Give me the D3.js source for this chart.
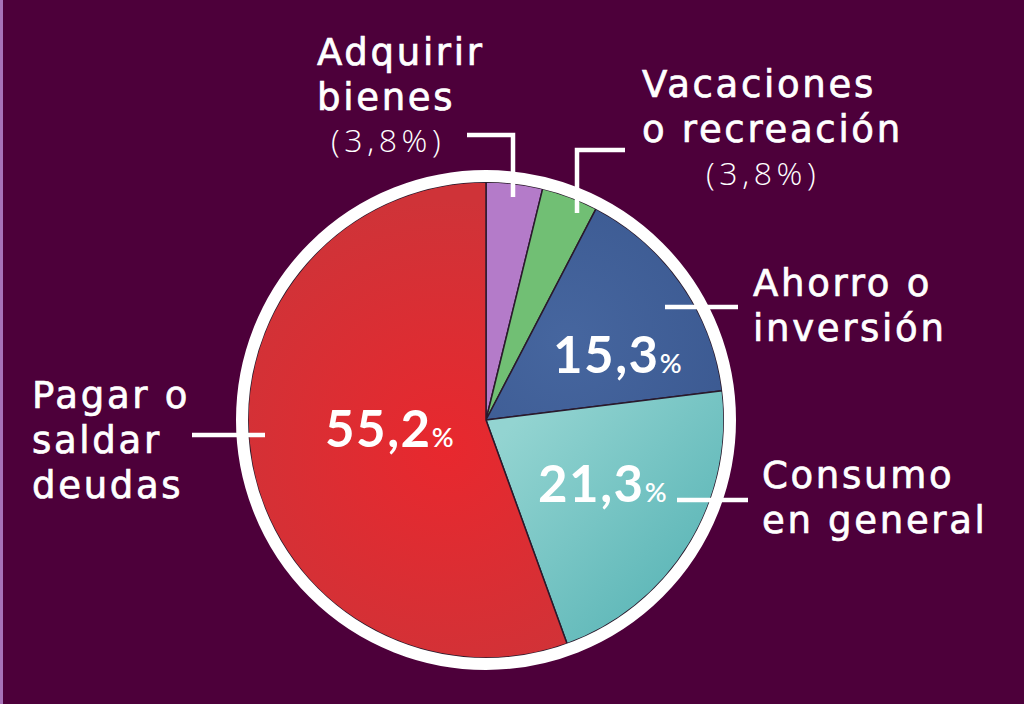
<!DOCTYPE html>
<html>
<head>
<meta charset="utf-8">
<script src="https://cdn.jsdelivr.net/npm/d3@7"></script>
<style>
  html, body { margin: 0; padding: 0; background: #4d003a; }
  svg { display: block; }
</style>
</head>
<body>
<div id="chart"></div>
<script>
// data (clockwise from 12 o'clock)
const categories = ["Adquirir bienes", "Vacaciones o recreación", "Ahorro o inversión", "Consumo en general", "Pagar o saldar deudas"];
const values = [3.8, 3.8, 15.3, 21.3, 55.2];
const labelLines = [["Adquirir", "bienes"], ["Vacaciones", "o recreación"], ["Ahorro o", "inversión"], ["Consumo", "en general"], ["Pagar o", "saldar", "deudas"]];
const colors = ["#b47bc9", "#71bf74", "url(#gBlue)", "url(#gTeal)", "url(#gRed)"];

// where each label sits and how its leader runs
const labelLayout = [
  {x: 317, y: 65, pctX: 331, pctY: 152, leader: [[467, 135], [513, 135], [513, 197]]},
  {x: 642, y: 97, pctX: 706, pctY: 185, leader: [[625, 150], [577, 150], [577, 213]]},
  {x: 753, y: 296, numX: 553, numY: 373, leader: [[665, 307], [738, 307]]},
  {x: 762, y: 488, numX: 538, numY: 502, leader: [[677, 500], [748, 500]]},
  {x: 32, y: 408, numX: 325, numY: 447, leader: [[192, 435], [265, 435]]}
];

const W = 1024, H = 704;
const cx = 486, cy = 420, radius = 238;
const fmt = d3.formatLocale({decimal: ",", thousands: ".", grouping: [3], currency: ["", "€"]}).format(".1f");

const svg = d3.select("#chart").append("svg")
  .attr("width", W).attr("height", H);

svg.append("rect").attr("width", W).attr("height", H).attr("fill", "#4d003a");
svg.append("rect").attr("width", 3).attr("height", H).attr("fill", "#a772b8");

// gradients, in the pie group's own coordinates (centre = 0,0)
const defs = svg.append("defs");
const red = defs.append("radialGradient").attr("id", "gRed")
  .attr("gradientUnits", "userSpaceOnUse").attr("cx", -40).attr("cy", 30).attr("r", 250);
red.append("stop").attr("offset", 0).attr("stop-color", "#e8282e");
red.append("stop").attr("offset", 1).attr("stop-color", "#cf3338");
const teal = defs.append("linearGradient").attr("id", "gTeal")
  .attr("gradientUnits", "userSpaceOnUse").attr("x1", 20).attr("y1", 10).attr("x2", 200).attr("y2", 180);
teal.append("stop").attr("offset", 0).attr("stop-color", "#93d4d1");
teal.append("stop").attr("offset", 1).attr("stop-color", "#5cb6b7");
const blue = defs.append("radialGradient").attr("id", "gBlue")
  .attr("gradientUnits", "userSpaceOnUse").attr("cx", 80).attr("cy", -80).attr("r", 170);
blue.append("stop").attr("offset", 0).attr("stop-color", "#46669f");
blue.append("stop").attr("offset", 1).attr("stop-color", "#3c5a92");

const pie = d3.pie().sort(null).value(d => d);
const arc = d3.arc().innerRadius(0).outerRadius(radius);

const g = svg.append("g").attr("transform", "translate(" + cx + "," + cy + ")");

g.selectAll(".slice")
  .data(pie(values))
  .enter().append("path")
    .attr("class", "slice")
    .attr("d", arc)
    .attr("fill", (d, i) => colors[i])
    .attr("stroke", "#2a1a2c")
    .attr("stroke-width", 1.5)
    .attr("stroke-linejoin", "round");

// white ring round the pie
g.append("circle")
  .attr("r", radius + 6)
  .attr("fill", "none")
  .attr("stroke", "#ffffff")
  .attr("stroke-width", 12);

// leaders
const line = d3.line();
svg.selectAll(".leader")
  .data(labelLayout)
  .enter().append("path")
    .attr("class", "leader")
    .attr("d", d => line(d.leader))
    .attr("fill", "none")
    .attr("stroke", "#ffffff")
    .attr("stroke-width", 4.5);

// category labels
labelLayout.forEach(function(l, i) {
  const t = svg.append("text")
    .attr("x", l.x).attr("y", l.y)
    .attr("fill", "#ffffff")
    .attr("stroke", "#ffffff")
    .attr("stroke-width", 0.7)
    .style("font-family", "'DejaVu Sans', sans-serif")
    .style("font-size", "37px")
    .style("letter-spacing", "2.7px");
  labelLines[i].forEach(function(s, j) {
    t.append("tspan").attr("x", l.x).attr("dy", j === 0 ? 0 : 45).text(s);
  });

  if (l.pctX !== undefined) {
    svg.append("text")
      .attr("x", l.pctX).attr("y", l.pctY)
      .attr("fill", "#ffffff")
      .style("font-family", "'Open Sans', sans-serif")
      .style("font-weight", 300)
      .style("font-size", "32px")
      .style("letter-spacing", "4.6px")
      .text("(" + fmt(values[i]) + "%)");
  } else {
    const n = svg.append("text")
      .attr("x", l.numX).attr("y", l.numY)
      .attr("fill", "#ffffff")
      .style("font-family", "Lato, sans-serif")
      .style("font-weight", 700)
      .style("font-size", "51px")
      .style("letter-spacing", "1.5px");
    n.append("tspan").text(fmt(values[i]));
    n.append("tspan").style("font-size", "27px").style("font-weight", 600).text("%");
  }
});
</script>
</body>
</html>
